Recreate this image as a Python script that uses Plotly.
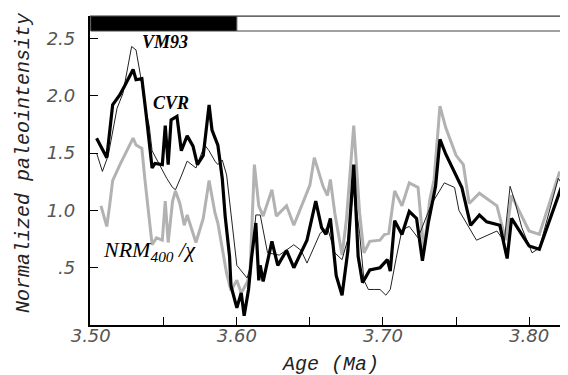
import plotly.graph_objects as go

# ---- data ----
cvr_age = [3.504, 3.511, 3.515, 3.520, 3.523, 3.529, 3.531, 3.535, 3.538, 3.542,
           3.544, 3.549, 3.551, 3.553, 3.555, 3.559, 3.562, 3.566, 3.570, 3.573,
           3.577, 3.581, 3.583, 3.587, 3.590, 3.592, 3.595, 3.596, 3.600, 3.603,
           3.605, 3.608, 3.610, 3.612, 3.613, 3.615, 3.616, 3.618, 3.624, 3.628,
           3.634, 3.639, 3.648, 3.654, 3.658, 3.661, 3.664, 3.668, 3.672, 3.676,
           3.680, 3.683, 3.686, 3.691, 3.698, 3.703, 3.705, 3.708, 3.713, 3.718,
           3.723, 3.727, 3.731, 3.736, 3.739, 3.743, 3.750, 3.754, 3.760, 3.766,
           3.771, 3.780, 3.785, 3.788, 3.793, 3.800, 3.807, 3.822]
cvr_val = [1.63, 1.46, 1.92, 2.01, 2.08, 2.23, 2.14, 2.15, 1.83, 1.37,
           1.41, 1.40, 1.74, 1.40, 1.79, 1.82, 1.52, 1.65, 1.56, 1.40,
           1.48, 1.92, 1.70, 1.57, 1.28, 0.95, 0.60, 0.34, 0.15, 0.28,
           0.08, 0.31, 0.58, 0.80, 0.89, 0.39, 0.52, 0.38, 0.73, 0.52,
           0.65, 0.50, 0.74, 1.08, 0.85, 0.79, 0.93, 0.43, 0.26, 0.65,
           1.40, 0.60, 0.37, 0.48, 0.50, 0.57, 0.47, 0.91, 0.79, 0.99,
           0.93, 0.56, 0.89, 1.21, 1.62, 1.49, 1.31, 1.20, 0.87, 0.96,
           0.90, 0.87, 0.58, 0.93, 0.83, 0.69, 0.66, 1.20]

vm93_age = [3.504, 3.508, 3.512, 3.518, 3.522, 3.525, 3.528, 3.531, 3.534, 3.537,
            3.540, 3.542, 3.547, 3.552, 3.556, 3.558, 3.562, 3.566, 3.572, 3.578,
            3.581, 3.585, 3.587, 3.590, 3.593, 3.600, 3.607, 3.610, 3.613, 3.616,
            3.621, 3.629, 3.639, 3.644, 3.648, 3.657, 3.662, 3.667, 3.672, 3.676,
            3.680, 3.684, 3.687, 3.690, 3.694, 3.698, 3.702, 3.705, 3.709, 3.713,
            3.718, 3.724, 3.728, 3.733, 3.742, 3.749, 3.752, 3.764, 3.778, 3.783,
            3.787, 3.790, 3.795, 3.802, 3.807, 3.820, 3.823]
vm93_val = [1.50, 1.34, 1.48, 1.89, 2.02, 2.22, 2.43, 2.40, 2.18, 1.91,
            1.74, 1.52, 1.40, 1.28, 1.20, 1.18, 1.30, 1.43, 1.37, 1.57,
            1.52, 1.43, 1.40, 1.44, 1.31, 0.52, 0.41, 0.54, 0.96, 0.96,
            0.63, 0.61, 0.70, 0.65, 0.54, 0.80, 0.85, 0.63, 0.57, 0.75,
            1.20, 0.80, 0.39, 0.31, 0.31, 0.31, 0.26, 0.31, 0.58, 0.83,
            0.86, 0.76, 0.89, 1.05, 1.24, 1.20, 1.00, 0.74, 0.82, 0.73,
            1.21, 1.09, 0.85, 0.63, 0.67, 1.28, 1.22]

nrm_age = [3.507, 3.508, 3.511, 3.513, 3.515, 3.520, 3.523, 3.529, 3.531, 3.535,
           3.537, 3.539, 3.542, 3.545, 3.549, 3.551, 3.553, 3.556, 3.558, 3.561,
           3.564, 3.566, 3.572, 3.577, 3.581, 3.585, 3.587, 3.593, 3.596, 3.600,
           3.603, 3.607, 3.609, 3.612, 3.615, 3.618, 3.624, 3.627, 3.634, 3.639,
           3.650, 3.653, 3.659, 3.662, 3.664, 3.667, 3.672, 3.675, 3.680, 3.684,
           3.687, 3.691, 3.698, 3.701, 3.704, 3.708, 3.713, 3.718, 3.724, 3.728,
           3.732, 3.735, 3.739, 3.743, 3.750, 3.755, 3.759, 3.766, 3.778, 3.784,
           3.788, 3.795, 3.800, 3.807, 3.821]
nrm_val = [1.04, 1.00, 0.86, 1.05, 1.26, 1.40, 1.48, 1.63, 1.57, 1.54,
           1.28, 1.05, 0.70, 0.76, 0.74, 1.08, 0.72, 1.08, 1.17, 1.06,
           0.87, 0.96, 0.72, 0.93, 1.26, 0.98, 0.89, 0.45, 0.30, 0.39,
           0.28, 0.37, 0.45, 1.40, 1.04, 0.95, 1.18, 0.95, 1.04, 0.87,
           1.22, 1.46, 1.21, 1.13, 1.27, 0.98, 0.61, 0.92, 1.74, 0.98,
           0.63, 0.73, 0.74, 0.79, 0.80, 1.17, 1.04, 1.24, 1.20, 0.65,
           1.09, 1.27, 1.91, 1.72, 1.48, 1.40, 1.06, 1.15, 1.04, 0.74,
           1.13, 0.95, 0.82, 0.79, 1.34]

x_tickvals = [3.50, 3.60, 3.70, 3.80]
x_ticktext = ["3.50", "3.60", "3.70", "3.80"]
y_tickvals = [0.5, 1.0, 1.5, 2.0, 2.5]
y_ticktext = [".5", "1.0", "1.5", "2.0", "2.5"]

# polarity bar: reversed (black) then normal (white)
chron_start = [3.50, 3.60]
chron_end = [3.60, 3.828]
chron_fill = ["black", "white"]

X_RANGE = [3.4995, 3.828]
Y_RANGE = [0, 2.696]
BAR_BOTTOM = 2.565

fig = go.Figure()
fig.add_trace(go.Scatter(x=nrm_age, y=nrm_val, mode="lines",
                         line=dict(color="#b2b2b2", width=3), hoverinfo="skip"))
fig.add_trace(go.Scatter(x=vm93_age, y=vm93_val, mode="lines",
                         line=dict(color="#222222", width=1), hoverinfo="skip"))
fig.add_trace(go.Scatter(x=cvr_age, y=cvr_val, mode="lines",
                         line=dict(color="black", width=3.2), hoverinfo="skip"))

for s, e, c in zip(chron_start, chron_end, chron_fill):
    fig.add_shape(type="rect", xref="x", yref="y", x0=s, x1=e, y0=BAR_BOTTOM, y1=Y_RANGE[1],
                  fillcolor=c, line=dict(color="#444", width=1), layer="above")
# top and right frame lines (thin)
fig.add_shape(type="line", xref="paper", yref="paper", x0=0, x1=1, y0=1, y1=1,
              line=dict(color="#333", width=1.2))
fig.add_shape(type="line", xref="paper", yref="paper", x0=1, x1=1, y0=0, y1=1,
              line=dict(color="#333", width=1.2))

label_font = "Liberation Serif"
fig.add_annotation(x=3.5505, y=2.47, xref="x", yref="y", text="<b><i>VM93</i></b>",
                   showarrow=False, font=dict(family=label_font, size=18, color="black"))
fig.add_annotation(x=3.555, y=1.94, xref="x", yref="y", text="<b><i>CVR</i></b>",
                   showarrow=False, font=dict(family=label_font, size=18, color="black"))
fig.add_annotation(x=3.540, y=0.65, xref="x", yref="y",
                   text="<i>NRM<sub>400</sub> /χ</i>",
                   showarrow=False, font=dict(family=label_font, size=22, color="black"))

title_font = dict(family="Liberation Mono", size=20, color="#222")
fig.add_annotation(x=0.5, y=-0.128, xref="paper", yref="paper", text="<i>Age (Ma)</i>",
                   showarrow=False, font=title_font, yanchor="middle")
fig.add_annotation(x=-0.137, y=0.525, xref="paper", yref="paper",
                   text="<i>Normalized paleointensity</i>", textangle=-90,
                   showarrow=False, font=title_font, xanchor="center")

tick_font = dict(family="DejaVu Sans", size=18, color="#555", style="italic")
fig.update_xaxes(range=X_RANGE, tickvals=x_tickvals, ticktext=x_ticktext,
                 ticks="inside", ticklen=8, tickwidth=1.2, tickcolor="black",
                 minor=dict(tick0=3.5, dtick=0.05, ticks="inside", ticklen=8,
                            tickwidth=1.2, tickcolor="black"),
                 ticklabelstandoff=-7,
                 showline=True, linecolor="black", linewidth=2.2, showgrid=False,
                 zeroline=False, tickfont=tick_font)
fig.update_yaxes(range=Y_RANGE, tickvals=y_tickvals, ticktext=y_ticktext,
                 ticks="inside", ticklen=8, tickwidth=1.2, tickcolor="black",
                 ticklabelstandoff=9,
                 showline=True, linecolor="black", linewidth=2.2, showgrid=False,
                 zeroline=False, tickfont=tick_font)
fig.update_layout(width=568, height=375, margin=dict(l=82, r=6, t=8, b=58),
                  paper_bgcolor="white", plot_bgcolor="white", showlegend=False,
                  font=dict(family="DejaVu Sans"))
fig.write_html("out.html")
